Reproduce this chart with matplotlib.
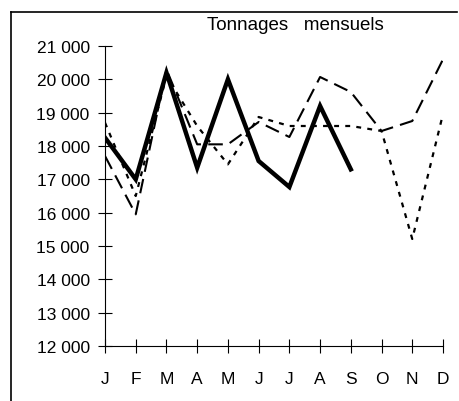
import matplotlib
matplotlib.use("Agg")
import matplotlib.pyplot as plt
from matplotlib.lines import Line2D
from matplotlib.ticker import FuncFormatter

months = ["J", "F", "M", "A", "M", "J", "J", "A", "S", "O", "N", "D"]

# three years of monthly tonnage
serie_solid = [18250, 17000, 20200, 17350, 20000, 17550, 16770, 19200, 17300]
serie_dash = [17700, 15950, 20300, 18050, 18050, 18720, 18270, 20070, 19620, 18450, 18750, 20600]
serie_dot = [18700, 16500, 20100, 18600, 17450, 18870, 18600, 18600, 18600, 18450, 15210, 18960]

plt.rcParams['font.family'] = ['Liberation Sans', 'DejaVu Sans']

fig = plt.figure(figsize=(4.59, 4.02), dpi=100)
ax = fig.add_axes([105/459, 1-347/402, (443-105)/459, (347-47)/402])

x = list(range(len(months)))
ax.plot(x, serie_dash, color='black', lw=1.5, dashes=(7, 3.5), solid_capstyle='butt')
ax.plot(x, serie_dot, color='black', lw=1.6, dashes=(2.2, 2.8))
ax.plot(x[:len(serie_solid)], serie_solid, color='black', lw=3.2, solid_joinstyle='miter')

ax.set_xlim(0, 11)
ax.set_ylim(12000, 21000)
ax.set_yticks(range(12000, 21001, 1000))
ax.yaxis.set_major_formatter(FuncFormatter(lambda v, p: f"{int(v):,}".replace(",", " ")))
ax.set_xticks(x)
ax.set_xticklabels(months)

for s in ['top', 'right']:
    ax.spines[s].set_visible(False)
for s in ['left', 'bottom']:
    ax.spines[s].set_linewidth(0.8)

ax.tick_params(axis='y', direction='inout', length=10, width=0.8, pad=6, labelsize=12.5)
ax.tick_params(axis='x', direction='inout', length=10, width=0.8, pad=13, labelsize=12.5)

fig.text(295/459, 1-25/402, "Tonnages   mensuels", ha='center', va='center', fontsize=13.5)

# outer frame (left and top only)
fig.add_artist(Line2D([11/459, 11/459], [0, 1-13/402], color='black', lw=1.2))
fig.add_artist(Line2D([11/459, 457/459], [1-13/402, 1-13/402], color='black', lw=1.2))

fig.savefig("out.png", dpi=100)
